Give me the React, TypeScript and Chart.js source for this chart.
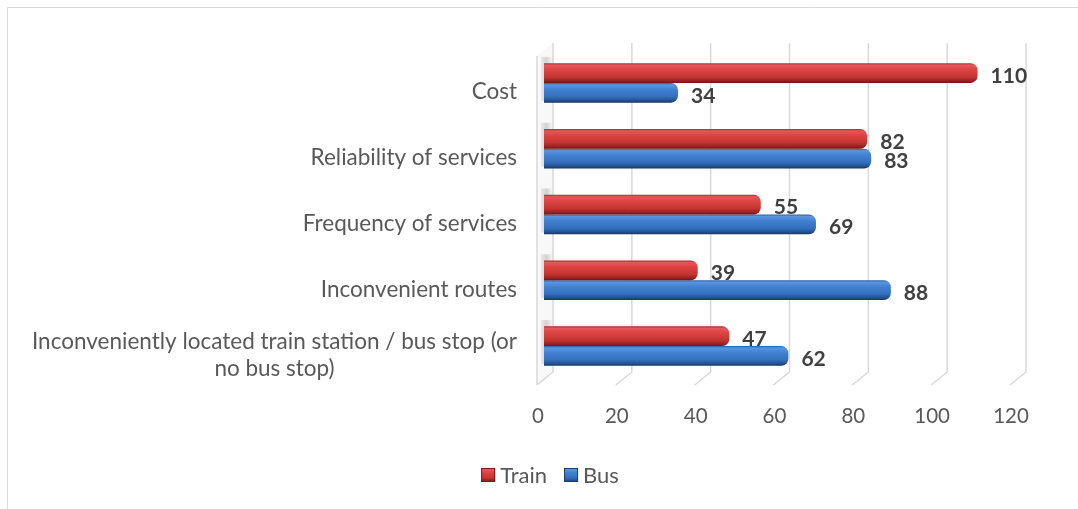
import React, { useEffect, useRef } from "react";
import { Chart, registerables } from "chart.js";

Chart.register(...registerables);

const categories: (string | string[])[] = [
  "Cost",
  "Reliability of services",
  "Frequency of services",
  "Inconvenient routes",
  ["Inconveniently located train station / bus stop (or", "no bus stop)"],
];
const seriesNames = ["Train", "Bus"];
const trainValues = [110, 82, 55, 39, 47];
const busValues = [34, 83, 69, 88, 62];
const xTicks = [0, 20, 40, 60, 80, 100, 120];

const FONT = "Lato, 'Open Sans', sans-serif";
const TEXT = "#595959";
const LABEL = "#404040";
const GRID = "#d9d9d9";

const redStops: [number, string][] = [
  [0, "#ad2a2c"],
  [0.1, "#e6575a"],
  [0.35, "#db4341"],
  [0.7, "#c43531"],
  [0.9, "#962022"],
  [1, "#701416"],
];
const blueStops: [number, string][] = [
  [0, "#2b61a8"],
  [0.1, "#5a95de"],
  [0.35, "#4180d0"],
  [0.7, "#346fbe"],
  [0.9, "#234f8c"],
  [1, "#15335c"],
];

function makeGrad(ctx: CanvasRenderingContext2D, y0: number, y1: number, stops: [number, string][], fallback: string) {
  if (!isFinite(y0) || !isFinite(y1) || Math.abs(y1 - y0) < 0.5) return fallback;
  const g = ctx.createLinearGradient(0, y0, 0, y1);
  stops.forEach(([o, c]) => g.addColorStop(o, c));
  return g;
}

function barFill(stops: [number, string][], fallback: string) {
  return (c: any) => {
    const chart = c.chart;
    const ys = chart.scales && chart.scales.y;
    if (!ys || c.dataIndex === undefined || c.datasetIndex === undefined) return fallback;
    const center = ys.getPixelForValue(c.dataIndex);
    const catW = (ys.bottom - ys.top) / categories.length;
    const bw = (catW * 0.6) / 2;
    const y0 = c.datasetIndex === 0 ? center - bw : center;
    const y1 = y0 + bw;
    return makeGrad(chart.ctx, y0, y1, stops, fallback);
  };
}

const decorPlugin = {
  id: "decor",
  beforeDatasetsDraw(chart: any) {
    const ctx: CanvasRenderingContext2D = chart.ctx;
    const xs = chart.scales.x;
    ctx.save();
    ctx.strokeStyle = GRID;
    ctx.lineWidth = 1;
    ctx.beginPath();
    ctx.moveTo(7.5, chart.height);
    ctx.lineTo(7.5, 7.5);
    ctx.lineTo(chart.width, 7.5);
    ctx.stroke();

    const backTop = 43;
    const backBottom = 372;
    const frontBottom = 385;
    const depth = 16;
    const shift = 9;

    const p0 = xs.getPixelForValue(xTicks[0]) + shift;
    ctx.fillStyle = "#f8f8f8";
    ctx.beginPath();
    ctx.moveTo(p0 - depth, backTop + 13);
    ctx.lineTo(p0, backTop);
    ctx.lineTo(p0, backBottom);
    ctx.lineTo(p0 - depth, frontBottom);
    ctx.closePath();
    ctx.fill();

    ctx.strokeStyle = GRID;
    ctx.lineWidth = 1.5;
    ctx.beginPath();
    ctx.moveTo(p0 - depth, backTop + 13);
    ctx.lineTo(p0 - depth, frontBottom);
    ctx.stroke();

    xTicks.forEach((v) => {
      const bx = xs.getPixelForValue(v) + shift;
      ctx.beginPath();
      ctx.moveTo(bx, backTop);
      ctx.lineTo(bx, backBottom);
      ctx.lineTo(bx - depth, frontBottom);
      ctx.stroke();
    });

    const ys = chart.scales.y;
    categories.forEach((_, i) => {
      const cy = ys.getPixelForValue(i);
      if (!isFinite(cy) || !isFinite(p0)) return;
      const g = ctx.createLinearGradient(p0 - depth, 0, p0, 0);
      g.addColorStop(0, "rgba(150,150,150,0)");
      g.addColorStop(0.6, "rgba(140,140,140,0.35)");
      g.addColorStop(1, "rgba(150,150,150,0)");
      ctx.fillStyle = g;
      ctx.fillRect(p0 - depth + 4, cy - 26, depth - 4, 44);
    });
    ctx.restore();
  },
  afterDatasetsDraw(chart: any) {
    const ctx: CanvasRenderingContext2D = chart.ctx;
    const ys = chart.scales.y;
    const busMeta = chart.getDatasetMeta(1);
    const trainMeta = chart.getDatasetMeta(0);

    ctx.save();
    ctx.font = `bold 21px ${FONT}`;
    ctx.fillStyle = LABEL;
    ctx.textAlign = "left";
    ctx.textBaseline = "middle";
    busMeta.data.forEach((el: any, i: number) => {
      ctx.fillText(String(busValues[i]), el.x + 13, el.y + 3);
    });
    ctx.save();
    ctx.beginPath();
    ctx.rect(0, 0, chart.width, chart.height);
    busMeta.data.forEach((el: any) => {
      const top = el.y - el.height / 2;
      ctx.rect(el.base, top, el.x - el.base, el.height);
    });
    ctx.clip("evenodd");
    trainMeta.data.forEach((el: any, i: number) => {
      ctx.fillText(String(trainValues[i]), el.x + 13, el.y + 3);
    });
    ctx.restore();

    ctx.font = `22.5px ${FONT}`;
    ctx.fillStyle = TEXT;
    ctx.textAlign = "center";
    const right = 517;
    const lh = 27;
    categories.forEach((lab, i) => {
      const lines = Array.isArray(lab) ? lab : [lab];
      const w = Math.max(...lines.map((l) => ctx.measureText(l).width));
      const cx = right - w / 2;
      const cy = ys.getPixelForValue(i) + 9;
      lines.forEach((l, j) => {
        ctx.fillText(l, cx, cy + (j - (lines.length - 1) / 2) * lh);
      });
    });

    ctx.font = `22px ${FONT}`;
    ctx.textAlign = "left";
    const box = 14;
    const gap = 5;
    const itemGap = 17;
    const widths = seriesNames.map((n) => box + gap + ctx.measureText(n).width);
    const total = widths.reduce((a, b) => a + b, 0) + itemGap * (seriesNames.length - 1);
    let lx = 550 - total / 2;
    const ly = 475;
    seriesNames.forEach((n, k) => {
      const stops = k === 0 ? redStops : blueStops;
      ctx.fillStyle = makeGrad(ctx, ly - box / 2, ly + box / 2, stops, k === 0 ? "#c0392b" : "#3a75c4");
      ctx.fillRect(lx, ly - box / 2, box, box);
      ctx.strokeStyle = k === 0 ? "#7a1a1b" : "#1c3f70";
      ctx.lineWidth = 1;
      ctx.strokeRect(lx + 0.5, ly - box / 2 + 0.5, box - 1, box - 1);
      ctx.fillStyle = TEXT;
      ctx.fillText(n, lx + box + gap, ly + 1);
      lx += widths[k] + itemGap;
    });
    ctx.restore();
  },
};

export default function App() {
  const ref = useRef<HTMLCanvasElement | null>(null);

  useEffect(() => {
    const canvas = ref.current;
    if (!canvas) return;
    const chart = new Chart(canvas, {
      type: "bar",
      data: {
        labels: categories as any,
        datasets: [
          {
            label: seriesNames[0],
            data: trainValues,
            backgroundColor: barFill(redStops, "#c0392b") as any,
            borderRadius: 7,
            borderSkipped: "start",
            categoryPercentage: 0.6,
            barPercentage: 1.0,
          },
          {
            label: seriesNames[1],
            data: busValues,
            backgroundColor: barFill(blueStops, "#3a75c4") as any,
            borderRadius: 7,
            borderSkipped: "start",
            categoryPercentage: 0.6,
            barPercentage: 1.0,
          },
        ],
      },
      options: {
        indexAxis: "y",
        responsive: false,
        animation: false,
        devicePixelRatio: 1,
        layout: { padding: { left: 8, right: 61, top: 50, bottom: 0 } },
        plugins: {
          legend: { display: false },
          tooltip: { enabled: false },
        },
        scales: {
          x: {
            min: xTicks[0],
            max: xTicks[xTicks.length - 1],
            afterBuildTicks: (s: any) => {
              s.ticks = xTicks.map((v) => ({ value: v }));
            },
            ticks: {
              padding: 25,
              labelOffset: -6,
              color: TEXT,
              font: { family: FONT, size: 20.5 },
              maxRotation: 0,
            },
            grid: { display: false, drawTicks: false },
            border: { display: false },
            afterFit: (s: any) => {
              s.height = 130;
            },
          },
          y: {
            ticks: { display: false },
            grid: { display: false, drawTicks: false },
            border: { display: false },
            afterFit: (s: any) => {
              s.width = 536;
            },
          },
        },
      },
      plugins: [decorPlugin],
    });
    return () => chart.destroy();
  }, []);

  return (
    <canvas
      ref={ref}
      width={1078}
      height={509}
      style={{ position: "fixed", left: 0, top: 0, display: "block", background: "#ffffff" }}
    />
  );
}
